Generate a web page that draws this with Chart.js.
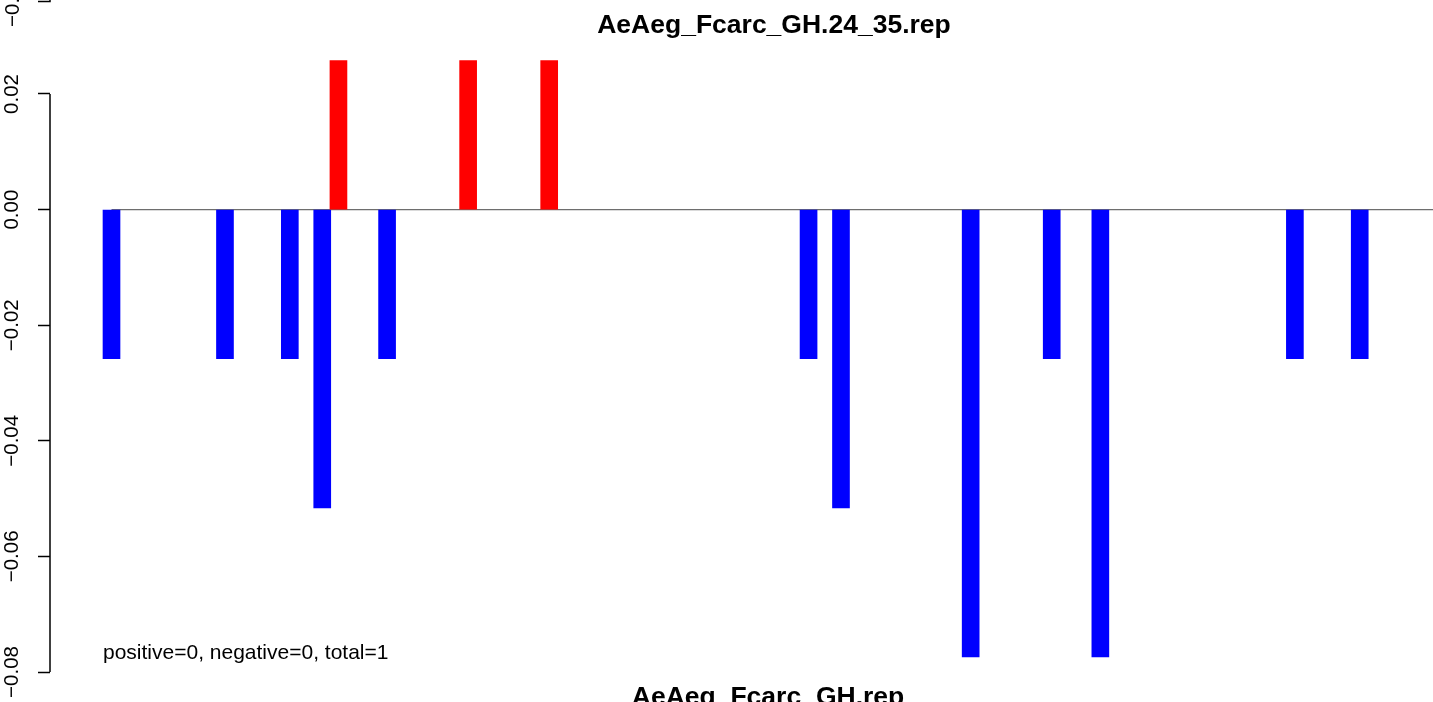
<!DOCTYPE html>
<html>
<head>
<meta charset="utf-8">
<script src="https://cdn.jsdelivr.net/npm/chart.js@4"></script>
<style>
  body { margin: 0; background: #fff; }
  canvas { display: block; }
</style>
</head>
<body>
<canvas id="grafico" width="1433" height="702"></canvas>
<script>
// positions along the x axis (slot index) and bar values
var posiciones = [0, 7, 11, 13, 14, 17, 22, 27, 43, 45, 53, 58, 61, 73, 77];
var valores = [-0.0258, -0.0258, -0.0258, -0.0516, 0.0258, -0.0258, 0.0258, 0.0258,
               -0.0258, -0.0516, -0.0774, -0.0258, -0.0774, -0.0258, -0.0258];
var ticksY = [-0.08, -0.06, -0.04, -0.02, 0.00, 0.02];

var titulo = 'AeAeg_Fcarc_GH.24_35.rep';
var tituloX = 'AeAeg_Fcarc_GH.rep';
var nota = 'positive=0, negative=0, total=1';

var fuente = '"Liberation Sans", Arial, Helvetica, sans-serif';

function menos(v){
  return v.toFixed(2).replace('-', '\u2212');
}

var extras = {
  id: 'extras',
  beforeDatasetsDraw: function(chart){
    var ctx = chart.ctx;
    var x = chart.scales.x, y = chart.scales.y;
    var y0 = y.getPixelForValue(0);
    ctx.save();
    ctx.strokeStyle = '#6e6e6e';
    ctx.lineWidth = 1.3;
    ctx.beginPath();
    ctx.moveTo(x.getPixelForValue(0), y0);
    ctx.lineTo(chart.chartArea.right, y0);
    ctx.stroke();
    ctx.restore();
  },
  afterDraw: function(chart){
    var ctx = chart.ctx;
    var y = chart.scales.y;
    var left = chart.chartArea.left;
    ctx.save();
    // axis line only between first and last tick
    ctx.strokeStyle = '#000';
    ctx.lineWidth = 1.5;
    ctx.beginPath();
    ctx.moveTo(left, y.getPixelForValue(ticksY[ticksY.length - 1]));
    ctx.lineTo(left, y.getPixelForValue(ticksY[0]));
    ctx.stroke();
    // leftover of the panel above
    ctx.beginPath();
    ctx.moveTo(left, 0);
    ctx.lineTo(left, 1.5);
    ctx.lineTo(left - 12, 1.5);
    ctx.stroke();
    ctx.fillStyle = '#000';
    ctx.font = '20.5px ' + fuente;
    ctx.textAlign = 'center';
    ctx.textBaseline = 'middle';
    ctx.translate(13, 1);
    ctx.rotate(-Math.PI / 2);
    ctx.fillText(menos(-0.08), 0, 0);
    ctx.restore();

    ctx.save();
    ctx.fillStyle = '#000';
    ctx.textBaseline = 'alphabetic';
    ctx.textAlign = 'center';
    ctx.font = 'bold 26.5px ' + fuente;
    ctx.fillText(titulo, 774, 33);
    ctx.fillText(tituloX, 768, 705);
    ctx.textAlign = 'left';
    ctx.font = '21px ' + fuente;
    ctx.fillText(nota, 103, 659);
    ctx.restore();
  }
};

var contexto = document.getElementById('grafico').getContext('2d');
var myChart = new Chart(contexto, {
  type: 'bar',
  data: {
    datasets: [{
      label: tituloX,
      data: posiciones.map(function(p, i){ return { x: p, y: valores[i] }; }),
      backgroundColor: valores.map(function(v){ return v > 0 ? '#ff0000' : '#0000ff'; }),
      borderWidth: 0,
      barThickness: 17
    }]
  },
  options: {
    responsive: false,
    animation: false,
    devicePixelRatio: 1,
    layout: { padding: 0 },
    plugins: {
      legend: { display: false },
      tooltip: { enabled: false },
      title: { display: false }
    },
    scales: {
      x: {
        type: 'linear',
        display: false,
        offset: false,
        min: -3.794,
        max: 81.52
      },
      y: {
        position: 'left',
        min: -0.08519,
        max: 0.03626,
        afterBuildTicks: function(scale){
          scale.ticks = ticksY.map(function(v){ return { value: v }; });
        },
        afterFit: function(scale){
          scale.width = 50;
          scale.paddingTop = 0;
          scale.paddingBottom = 0;
        },
        border: { display: false },
        grid: {
          drawOnChartArea: false,
          drawTicks: true,
          tickLength: 12,
          color: '#000',
          tickColor: '#000',
          tickWidth: 1.5
        },
        ticks: {
          minRotation: 90,
          maxRotation: 90,
          crossAlign: 'center',
          padding: 0,
          color: '#000',
          font: { family: fuente, size: 20.5 },
          callback: function(v){ return menos(v); }
        }
      }
    }
  },
  plugins: [extras]
});
</script>
</body>
</html>
